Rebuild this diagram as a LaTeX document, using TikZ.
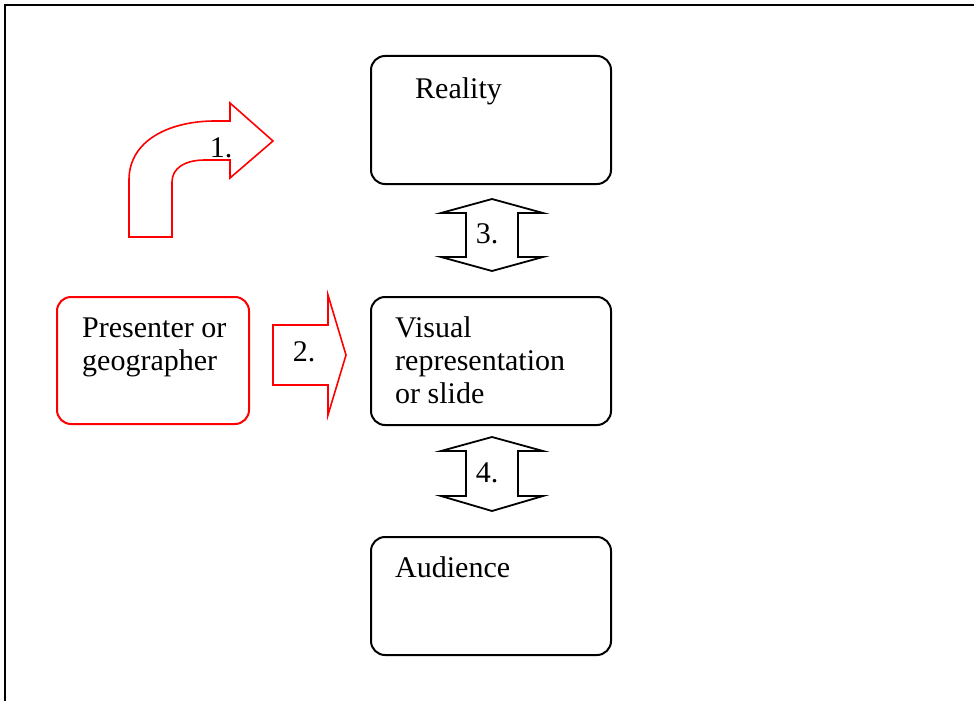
\documentclass[tikz,border=0pt]{standalone}
\usepackage{fontspec}
\setmainfont{Liberation Serif}
\usetikzlibrary{positioning}

\begin{document}
\begin{tikzpicture}[x=1pt,y=-1pt,
    box/.style={draw,rounded corners=14pt,line width=2pt,minimum width=240pt,minimum height=128pt,anchor=north west,inner sep=0pt},
    txt/.style={anchor=base west,align=left,inner sep=0pt,font=\fontsize{30}{33}\selectfont},
    num/.style={inner sep=0pt,font=\fontsize{30}{33}\selectfont},
    redarrow/.style={draw=red,line width=1.6pt,line join=miter},
    dblarrow/.style={draw,line width=1.8pt,line join=miter}]
      \useasboundingbox (0,0) rectangle (974,701);
      % frame
      \draw[line width=2pt] (5,701) -- (5,5) -- (974,5);
      % boxes
      \node[box] (reality) at (370,55) {};
      \node[box] (visual) at (370,296) {};
      \node[box,minimum height=118pt] (audience) at (370,536) {};
      \node[box,draw=red,minimum width=192pt,minimum height=127pt] (presenter) at (56,296) {};
      % texts, anchored at the baseline of their last line
      \node[txt] (realitytxt) at ([xshift=45pt,yshift=-44pt]reality.north west) {Reality};
      \node[txt] (visualtxt) at ([xshift=25pt,yshift=-107pt]visual.north west) {Visual\\representation\\or slide};
      \node[txt] (audiencetxt) at ([xshift=25pt,yshift=-41pt]audience.north west) {Audience};
      \node[txt] (presentertxt) at ([xshift=26pt,yshift=-74pt]presenter.north west) {Presenter or\\geographer};
      % block arrows
      \draw[redarrow] (129,237) -- (129,180) .. controls (129,140) and (170,121) .. (215,121) -- (230,121) -- (230,103)
        -- (273,141) -- (230,178) -- (230,160) -- (205,160) .. controls (185,160) and (172,168) .. (172,182) -- (172,237) -- cycle;
      \draw[redarrow] (273,325) -- (328,325) -- (328,295) -- (346,355) -- (328,415) -- (328,385) -- (273,385) -- cycle;
      \draw[dblarrow] (492,199) -- (543,213) -- (518,213) -- (518,257) -- (543,257) -- (492,271)
        -- (441,257) -- (466,257) -- (466,213) -- (441,213) -- cycle;
      \draw[dblarrow] (492,437) -- (543,451) -- (518,451) -- (518,496) -- (543,496) -- (492,511)
        -- (441,496) -- (466,496) -- (466,451) -- (441,451) -- cycle;
      % numbers
      \node[num] (one) at (221,148) {1.};
      \node[num] (two) at (304,352) {2.};
      \node[num] (three) at (487,234) {3.};
      \node[num] (four) at (487,473) {4.};
\end{tikzpicture}
\end{document}
